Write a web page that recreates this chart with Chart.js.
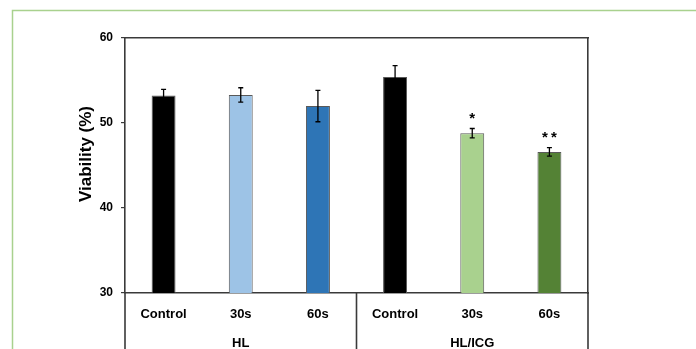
<!DOCTYPE html>
<html><head><meta charset="utf-8">
<script src="https://cdn.jsdelivr.net/npm/chart.js@4.4.0/dist/chart.umd.min.js"></script>
<style>html,body{margin:0;padding:0;background:#fff;} canvas{display:block;}</style>
</head><body>
<canvas id="c" width="696" height="349"></canvas>
<script>
// ---- data ----
const categories = ['Control', '30s', '60s', 'Control', '30s', '60s'];
const groups = ['HL', 'HL/ICG'];
const viability = [53.25, 53.3, 52.0, 55.4, 48.8, 46.6];
const errors = [0.7, 0.85, 1.85, 1.35, 0.55, 0.5];
const significance = ['', '', '', '', '*', '**'];
const yTicks = [30, 40, 50, 60];
const yTitle = 'Viability (%)';

// ---- styles ----
const barColors = ['#000000', '#9dc3e6', '#2e75b6', '#000000', '#a9d18e', '#548235'];
const FONT = "'Liberation Sans', Arial, sans-serif";
const AXIS = '#3a3a3a';
const AXW = 1.6;

const pagePlugin = {
  id: 'page',
  beforeDraw(chart) {
    const ctx = chart.ctx;
    ctx.save();
    ctx.fillStyle = '#fff';
    ctx.fillRect(0, 0, chart.width, chart.height);
    ctx.strokeStyle = '#a9d18e';
    ctx.lineWidth = 1.5;
    ctx.beginPath();
    ctx.moveTo(chart.width + 5, 10.5);
    ctx.lineTo(12.5, 10.5);
    ctx.lineTo(12.5, chart.height + 5);
    ctx.stroke();
    ctx.restore();
  }
};

const errPlugin = {
  id: 'err',
  afterDatasetsDraw(chart) {
    const ctx = chart.ctx;
    const meta = chart.getDatasetMeta(0);
    const y = chart.scales.y;
    ctx.save();
    ctx.strokeStyle = '#000';
    ctx.lineWidth = 1.3;
    meta.data.forEach((bar, i) => {
      const x = bar.x;
      const top = y.getPixelForValue(viability[i] + errors[i]);
      const bot = y.getPixelForValue(viability[i] - errors[i]);
      ctx.beginPath();
      ctx.moveTo(x, top); ctx.lineTo(x, bot);
      ctx.moveTo(x - 2.5, top); ctx.lineTo(x + 2.5, top);
      ctx.moveTo(x - 2.5, bot); ctx.lineTo(x + 2.5, bot);
      ctx.stroke();
      if (significance[i]) {
        ctx.fillStyle = '#000';
        ctx.font = 'bold 15px ' + FONT;
        ctx.textAlign = 'center';
        ctx.textBaseline = 'alphabetic';
        ctx.letterSpacing = '3px';
        ctx.fillText(significance[i], x + 1.5, top - 6);
        ctx.letterSpacing = '0px';
      }
    });
    ctx.restore();
  }
};

const decoPlugin = {
  id: 'deco',
  afterDraw(chart) {
    const ctx = chart.ctx;
    const a = chart.chartArea;
    const x = chart.scales.x;
    const mid = (x.getPixelForValue(2) + x.getPixelForValue(3)) / 2;
    ctx.save();
    ctx.strokeStyle = AXIS;
    ctx.lineWidth = AXW;
    ctx.beginPath();
    [a.left, mid, a.right].forEach(px => {
      ctx.moveTo(px, a.bottom);
      ctx.lineTo(px, chart.height + 2);
    });
    ctx.stroke();
    // y-axis title
    ctx.translate(a.left - 39, (a.top + a.bottom) / 2 - 11.5);
    ctx.rotate(-Math.PI / 2);
    ctx.fillStyle = '#000';
    ctx.font = 'bold 17px ' + FONT;
    ctx.textAlign = 'center';
    ctx.textBaseline = 'middle';
    ctx.fillText(yTitle, 0, 0);
    ctx.restore();
  }
};

new Chart(document.getElementById('c'), {
  type: 'bar',
  data: {
    labels: categories,
    datasets: [{
      data: viability,
      backgroundColor: barColors,
      borderColor: '#595959',
      borderWidth: 1,
      barPercentage: 0.31,
      categoryPercentage: 1.0,
      xAxisID: 'x',
      yAxisID: 'y'
    }]
  },
  options: {
    responsive: false,
    animation: false,
    devicePixelRatio: 1,
    layout: { padding: { left: 0, top: 38, right: 108, bottom: 0 } },
    plugins: { legend: { display: false }, tooltip: { enabled: false } },
    scales: {
      x: {
        type: 'category',
        position: 'bottom',
        offset: true,
        grid: { display: false, drawTicks: false },
        border: { display: true, color: AXIS, width: AXW },
        ticks: { color: '#000', font: { family: FONT, size: 13, weight: 'bold' }, padding: 14, maxRotation: 0, autoSkip: false },
        afterFit(s) { s.height = 31; }
      },
      x2: {
        type: 'category',
        labels: groups,
        position: 'bottom',
        offset: true,
        grid: { display: false, drawTicks: false },
        border: { display: false },
        ticks: { color: '#000', font: { family: FONT, size: 13, weight: 'bold' }, padding: 12, maxRotation: 0 },
        afterFit(s) { s.height = 25; }
      },
      xTop: {
        type: 'linear',
        position: 'top',
        grid: { display: false, drawTicks: false },
        border: { display: true, color: AXIS, width: AXW },
        ticks: { display: false },
        afterFit(s) { s.height = 0; }
      },
      y: {
        type: 'linear',
        position: 'left',
        min: 30,
        max: 60,
        afterBuildTicks(s) { s.ticks = yTicks.map(v => ({ value: v })); },
        grid: { drawOnChartArea: false, drawTicks: true, tickLength: 4, color: AXIS, lineWidth: 1.2 },
        border: { display: true, color: AXIS, width: AXW },
        ticks: { color: '#000', font: { family: FONT, size: 12, weight: 'bold' }, padding: 8 },
        afterFit(s) { s.width = 125; }
      },
      y2: {
        type: 'linear',
        position: 'right',
        grid: { display: false, drawTicks: false },
        border: { display: true, color: AXIS, width: AXW },
        ticks: { display: false },
        afterFit(s) { s.width = 0; }
      }
    }
  },
  plugins: [pagePlugin, errPlugin, decoPlugin]
});
</script>
</body></html>
